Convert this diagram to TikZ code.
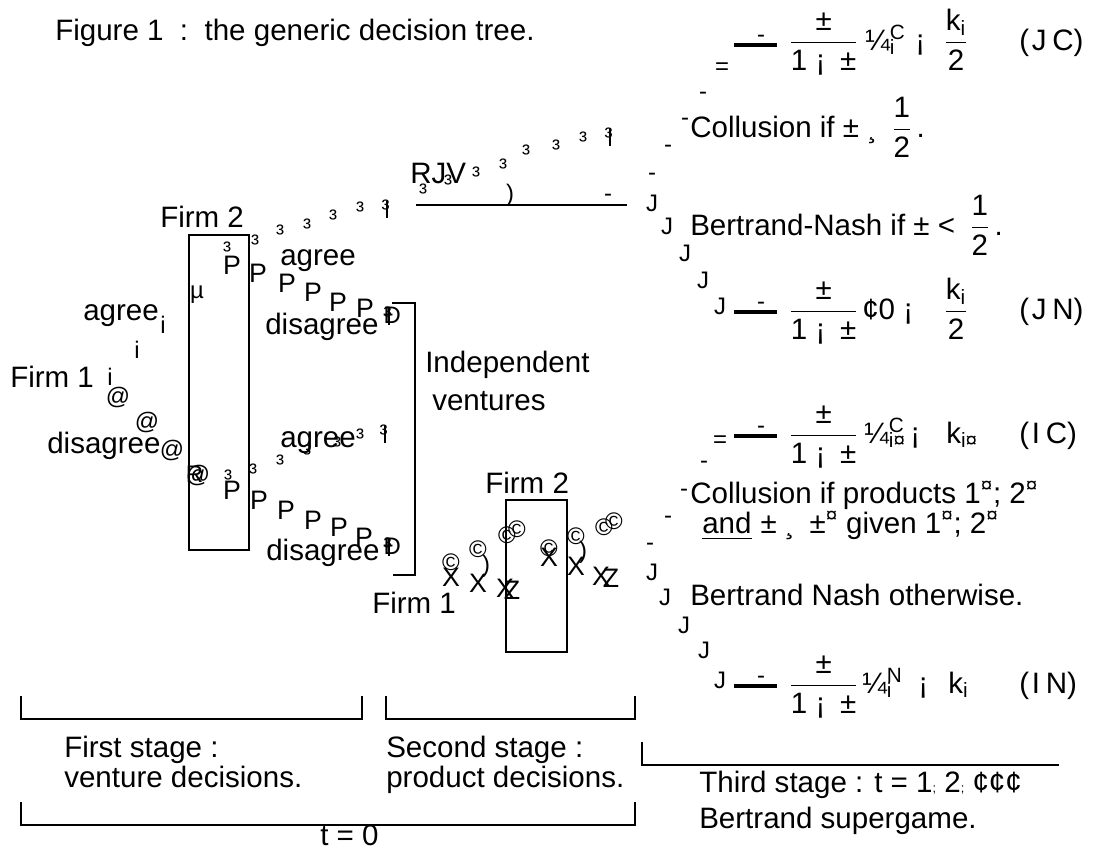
\documentclass[tikz,border=0pt]{standalone}
\usepackage{amsmath}
\usepackage{fontspec}
\setmainfont{Liberation Sans}
\usetikzlibrary{positioning}

% fraction with a heavier rule, and the garbled profit symbol
\newcommand{\gf}[2]{$\genfrac{}{}{1pt}{0}{\mbox{#1}}{\mbox{#2}}$}
\newcommand{\pisc}[2]{¼\rlap{\textsuperscript{#1}}\textsubscript{#2}}
\newcommand{\tstem}{\rlap{³}\kern0.2em\rule[-0.05em]{0.08em}{0.75em}}

\begin{document}
\begin{tikzpicture}[x=0.025cm, y=-0.025cm,
            every node/.style={inner sep=0pt, font=\fontsize{21}{25}\selectfont},
            lbl/.style={anchor=base west},
            gl/.style={font=\fontsize{17}{20}\selectfont},
            big/.style={font=\fontsize{19}{22}\selectfont},
            rule/.style={line width=1.2pt},
            bar/.style={line width=2.4pt}]

            \useasboundingbox (0,0) rectangle (1096,850);

            % Title
            \node (title) [lbl] at (55,40) {Figure 1\ \ :\ \ the generic decision tree.};

            % Firm 1
            \node (firm1) [lbl] at (10,387) {Firm 1};
            \node (agrA) [lbl] at (83,320) {agree};
            \node (disA) [lbl] at (47,453) {disagree};
            \foreach \x/\y [count=\k] in {110/377,137/350,163/325}
                \node (fa\k) [gl] at (\x,\y) {i};
            \node (faend) [gl] at (197,295) {µ};
            \foreach \x/\y [count=\k] in {118/397,147/422,172/450}
                \node (fd\k) [gl] at (\x,\y) {@};
            \node (fdend) [gl] at (198,475) {\rlap{R}@};

            % Firm 2 information set
            \draw [rule] (189,235) rectangle (249,550);
            \node (firm2) [lbl] at (160,227) {Firm 2};

            % Firm 2, upper node
            \foreach \x/\y [count=\k] in {227/250,255/243,280/233,307/227,333/218,360/210}
                \node (ua\k) [gl] at (\x,\y) {³};
            \node (uaend) [gl] at (385,209) {\tstem};
            \foreach \x/\y [count=\k] in {232/265,258/273,287/283,313/292,338/302,365/308}
                \node (ud\k) [big] at (\x,\y) {P};
            \node (udend) [gl] at (387,316) {\rlap{Ð}\tstem};
            \node (agrB) [lbl] at (280,265) {agree};
            \node (disB) [lbl] at (265,334) {disagree};

            % Firm 2, lower node
            \foreach \x/\y [count=\k] in {228/478,253/472,280/463,307/453,337/445,360/437}
                \node (la\k) [gl] at (\x,\y) {³};
            \node (laend) [gl] at (383,434) {\tstem};
            \foreach \x/\y [count=\k] in {232/490,259/500,286/510,313/520,339/527,364/537}
                \node (ld\k) [big] at (\x,\y) {P};
            \node (ldend) [gl] at (387,547) {\rlap{Ð}\tstem};
            \node (agrC) [lbl] at (280,447) {agree};
            \node (disC) [lbl] at (266,560) {disagree};

            % Independent ventures
            \draw [rule] (392,303) -- (415,303) -- (415,575) -- (393,575);
            \node (indep) [lbl] at (425,372) {Independent};
            \node (vent) [lbl] at (432,410) {ventures};

            % RJV branch
            \node (rjv) [lbl] at (410,183) {RJV};
            \foreach \x/\y [count=\k] in {423/192,448/183,476/175,503/167,526/153,556/148,583/140}
                \node (rj\k) [gl] at (\x,\y) {³};
            \node (rjend) [gl] at (608,137) {\tstem};
            \node (rjpar) [gl] at (510,195) {)};
            \coordinate (rjl) at (416,205);
            \coordinate (rjr) at (627,205);
            \draw [line width=1.4pt] (rjl) -- (rjr);
            \node (rjdash) [gl] at (608,198) {-};

            % fans to the third stage
            \foreach \x/\y [count=\k] in {652/177,668/149,685/122,703/96,650/547,668/520,684/493,704/465}
                \node (up\k) [gl] at (\x,\y) {-};
            \foreach \x/\y [count=\k] in {652/203,667/226,685/253,703/280,720/306,
                                          652/572,665/597,684/625,704/650,720/680}
                \node (dn\k) [gl] at (\x,\y) {J};
            \node (eqA) [gl] at (722,69) {=};
            \node (eqB) [gl] at (720,442) {=};
            \foreach \y/\n in {45/jc,312/jn,436/ic,686/in} {
                \coordinate (\n l) at (734,\y);
                \coordinate (\n r) at (777,\y);
                \draw [bar] (\n l) -- (\n r);
                \node (\n d) [gl] at (761,\y-6) {-};
            }

            % (JC)
            \node (jcf) [lbl] at (789,50) {\gf{±}{1 ¡\enspace ±}};
            \node (jcp) [lbl] at (865,50) {\pisc{C}{i}};
            \node (jcm) [lbl] at (915,50) {¡};
            \node (jck) [lbl] at (944,50) {\gf{k\textsubscript{i}}{2}};
            \node (jcn) [lbl] at (1019,50) {(\kern2pt J\kern4pt C)};
            \node (jcc) [lbl] at (690,137) {Collusion if ± ¸\enspace\gf{1}{2}\,.};
            \node (jcb) [lbl] at (690,235) {Bertrand-Nash if ± <\enspace\gf{1}{2}\,.};

            % (JN)
            \node (jnf) [lbl] at (789,319) {\gf{±}{1 ¡\enspace ±}};
            \node (jnp) [lbl] at (862,319) {¢0 ¡};
            \node (jnk) [lbl] at (944,319) {\gf{k\textsubscript{i}}{2}};
            \node (jnn) [lbl] at (1019,319) {(\kern2pt J\kern4pt N)};

            % (IC)
            \node (icf) [lbl] at (789,443) {\gf{±}{1 ¡\enspace ±}};
            \node (icp) [lbl] at (864,443) {\pisc{C}{i¤}};
            \node (icm) [lbl] at (910,443) {¡};
            \node (ick) [lbl] at (946,443) {k\textsubscript{i¤}};
            \node (icn) [lbl] at (1019,443) {(\kern2pt I\kern4pt C)};
            \node (icc) [lbl] at (690,503) {Collusion if products 1\textsuperscript{¤}; 2\textsuperscript{¤}};
            \node (icand) [lbl] at (702,533) {and};
            \draw [line width=1.2pt] ([yshift=-4pt]icand.base west) -- ([yshift=-4pt]icand.base east);
            \node (icg) [lbl, right=6pt of icand.base east, anchor=base west]
                {± ¸\enspace ±\textsuperscript{¤} given 1\textsuperscript{¤}; 2\textsuperscript{¤}};
            \node (icb) [lbl] at (690,605) {Bertrand Nash otherwise.};

            % (IN)
            \node (inf) [lbl] at (789,693) {\gf{±}{1 ¡\enspace ±}};
            \node (inp) [lbl] at (862,693) {\pisc{N}{i}};
            \node (inm) [lbl] at (918,693) {¡};
            \node (ink) [lbl] at (948,693) {k\textsubscript{i}};
            \node (inn) [lbl] at (1019,693) {(\kern2pt I\kern4pt N)};

            % Second stage: product decisions
            \draw [rule] (506,500) rectangle (567,652);
            \node (firm2b) [lbl] at (485,493) {Firm 2};
            \node (firm1b) [lbl] at (372,613) {Firm 1};
            \foreach \x/\y [count=\k] in {451/562,478/549,507/535,517/529,549/548,576/536,604/527,614/521}
                \node (pc\k) [gl] at (\x,\y) {©};
            \foreach \x/\y [count=\k] in {451/577,478/583,505/588,549/557,576/566,601/576}
                \node (px\k) [big] at (\x,\y) {X};
            \node (pz1) [big] at (512,590) {Z};
            \node (pz2) [big] at (611,578) {Z};
            \node (pp1) [gl] at (486,566) {)};
            \node (pp2) [gl] at (583,552) {)};

            % stages
            \draw [rule] (21,696) -- (21,719) -- (362,719) -- (362,696);
            \draw [rule] (386,696) -- (386,719) -- (635,719) -- (635,696);
            \draw [rule] (642,742) -- (642,765) -- (1059,765);
            \draw [rule] (21,802) -- (21,825) -- (635,825) -- (635,802);
            \node (st1) [lbl] at (64,757) {First stage :};
            \node (st1b) [lbl] at (64,787) {venture decisions.};
            \node (st2) [lbl] at (386,757) {Second stage :};
            \node (st2b) [lbl] at (386,787) {product decisions.};
            \node (st3) [lbl] at (699,792) {Third stage : t = 1{\small;} 2{\small;} ¢¢¢};
            \node (st3b) [lbl] at (699,828) {Bertrand supergame.};
            \node (tzero) [lbl] at (320,845) {t = 0};
        \end{tikzpicture}
\end{document}
